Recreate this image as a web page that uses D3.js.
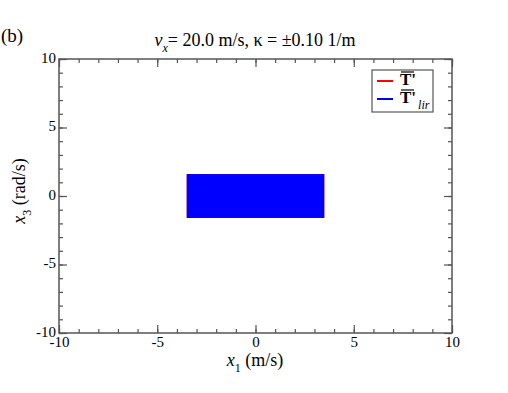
<!DOCTYPE html>
<html>
<head>
<meta charset="utf-8">
<script src="https://cdn.jsdelivr.net/npm/d3@7"></script>
<style>
  body { margin: 0; background: #fff; }
  svg text { font-family: "Liberation Serif", "DejaVu Serif", serif; fill: #000; }
</style>
</head>
<body>
<div class="boundary"></div>
<script>
// data
var xDomain = [-10, 10];
var yDomain = [-10, 10];
var majorTicks = [-10, -5, 0, 5, 10];
var minorTicks = d3.range(-10, 11, 1);
// region where the two fields are defined: [x1min, x1max, x3min, x3max]
var seriesNames = ["T'", "T'lir"];
var seriesColors = ["#ff0000", "#0000ff"];
var regionT = [-3.5, 3.5, -1.6, 1.6];
var regionTlir = [-3.5, 3.5, -1.6, 1.6];

var width = 508, height = 393;
var pLeft = 59, pRight = 452, pTop = 59, pBottom = 333;
var serif = "'Liberation Serif', 'DejaVu Serif', serif";

var svg = d3.select(".boundary").append("svg")
  .attr("width", width).attr("height", height);

var x = d3.scaleLinear().domain(xDomain).range([pLeft, pRight]);
var y = d3.scaleLinear().domain(yDomain).range([pBottom, pTop]);

var regions = [regionT, regionTlir];
svg.append("g").selectAll("rect").data(regions).enter().append("rect")
  .attr("x", function(d){ return x(d[0]); })
  .attr("y", function(d){ return y(d[3]); })
  .attr("width", function(d){ return x(d[1]) - x(d[0]); })
  .attr("height", function(d){ return y(d[2]) - y(d[3]); })
  .attr("fill", function(d, i){ return seriesColors[i]; });

var axisColor = "#555";
var fmt = function(d){ return String(d); };
function styleAxis(g) {
  g.attr("font-family", serif).attr("font-size", 15);
  g.select(".domain").remove();
  g.selectAll(".tick line").attr("stroke", axisColor).attr("stroke-width", 1.2);
  g.selectAll(".tick text").style("font-family", serif).style("font-size", "15px");
}

// minor ticks, inward on all four sides
svg.append("g").attr("transform", "translate(0," + pBottom + ")")
  .call(d3.axisBottom(x).tickValues(minorTicks).tickSize(-4).tickFormat(""))
  .call(styleAxis);
svg.append("g").attr("transform", "translate(0," + pTop + ")")
  .call(d3.axisTop(x).tickValues(minorTicks).tickSize(-4).tickFormat(""))
  .call(styleAxis);
svg.append("g").attr("transform", "translate(" + pLeft + ",0)")
  .call(d3.axisLeft(y).tickValues(minorTicks).tickSize(-4).tickFormat(""))
  .call(styleAxis);
svg.append("g").attr("transform", "translate(" + pRight + ",0)")
  .call(d3.axisRight(y).tickValues(minorTicks).tickSize(-4).tickFormat(""))
  .call(styleAxis);

// major ticks with labels
svg.append("g").attr("transform", "translate(0," + pBottom + ")")
  .call(d3.axisBottom(x).tickValues(majorTicks).tickSize(-8).tickFormat(fmt))
  .call(styleAxis)
  .selectAll(".tick text").attr("y", 3).attr("dy", "0.75em");
svg.append("g").attr("transform", "translate(0," + pTop + ")")
  .call(d3.axisTop(x).tickValues(majorTicks).tickSize(-8).tickFormat(""))
  .call(styleAxis);
svg.append("g").attr("transform", "translate(" + pLeft + ",0)")
  .call(d3.axisLeft(y).tickValues(majorTicks).tickSize(-8).tickFormat(fmt))
  .call(styleAxis)
  .selectAll(".tick text").attr("x", -3).attr("dy", "0.2em");
svg.append("g").attr("transform", "translate(" + pRight + ",0)")
  .call(d3.axisRight(y).tickValues(majorTicks).tickSize(-8).tickFormat(""))
  .call(styleAxis);

// frame
svg.append("rect").attr("x", pLeft).attr("y", pTop)
  .attr("width", pRight - pLeft).attr("height", pBottom - pTop)
  .attr("fill", "none").attr("stroke", axisColor).attr("stroke-width", 1.5);

// titles
svg.append("text").attr("x", 1).attr("y", 42).style("font-size", "19px").text("(b)");

var title = svg.append("text").attr("x", 255).attr("y", 46)
  .attr("text-anchor", "middle").style("font-size", "18px");
title.append("tspan").style("font-style", "italic").text("v");
title.append("tspan").attr("dy", 6).style("font-size", "12px").style("font-style", "italic").text("x");
title.append("tspan").attr("dy", -6).text("= 20.0 m/s, \u03ba = \u00b10.10 1/m");

var xl = svg.append("text").attr("x", 255).attr("y", 366)
  .attr("text-anchor", "middle").style("font-size", "18px");
xl.append("tspan").style("font-style", "italic").text("x");
xl.append("tspan").attr("dy", 6).style("font-size", "12px").text("1");
xl.append("tspan").attr("dy", -6).text(" (m/s)");

var yl = svg.append("text").attr("transform", "translate(25,191) rotate(-90)")
  .attr("text-anchor", "middle").style("font-size", "18px");
yl.append("tspan").style("font-style", "italic").text("x");
yl.append("tspan").attr("dy", 6).style("font-size", "12px").text("3");
yl.append("tspan").attr("dy", -6).text(" (rad/s)");

// legend
var lg = svg.append("g").attr("transform", "translate(372,70)");
lg.append("rect").attr("width", 61).attr("height", 42)
  .attr("fill", "#fff").attr("stroke", axisColor).attr("stroke-width", 1.2);
var items = lg.selectAll("g.item").data(seriesNames).enter().append("g")
  .attr("class", "item")
  .attr("transform", function(d, i){ return "translate(0," + (11 + i * 18) + ")"; });
items.append("line").attr("x1", 5).attr("x2", 21).attr("y1", 0).attr("y2", 0)
  .attr("stroke", function(d, i){ return seriesColors[i]; }).attr("stroke-width", 2);
items.append("line").attr("x1", 29).attr("x2", 42).attr("y1", -9).attr("y2", -9)
  .attr("stroke", "#000").attr("stroke-width", 1.2);
var lt = items.append("text").attr("x", 28).attr("y", 4)
  .style("font-size", "17px").style("font-weight", "bold");
lt.append("tspan").text("T'");
lt.filter(function(d, i){ return i === 1; }).append("tspan")
  .attr("dx", 2).attr("dy", 6).style("font-size", "12px")
  .style("font-style", "italic").style("font-weight", "normal").text("lir");
</script>
</body>
</html>
